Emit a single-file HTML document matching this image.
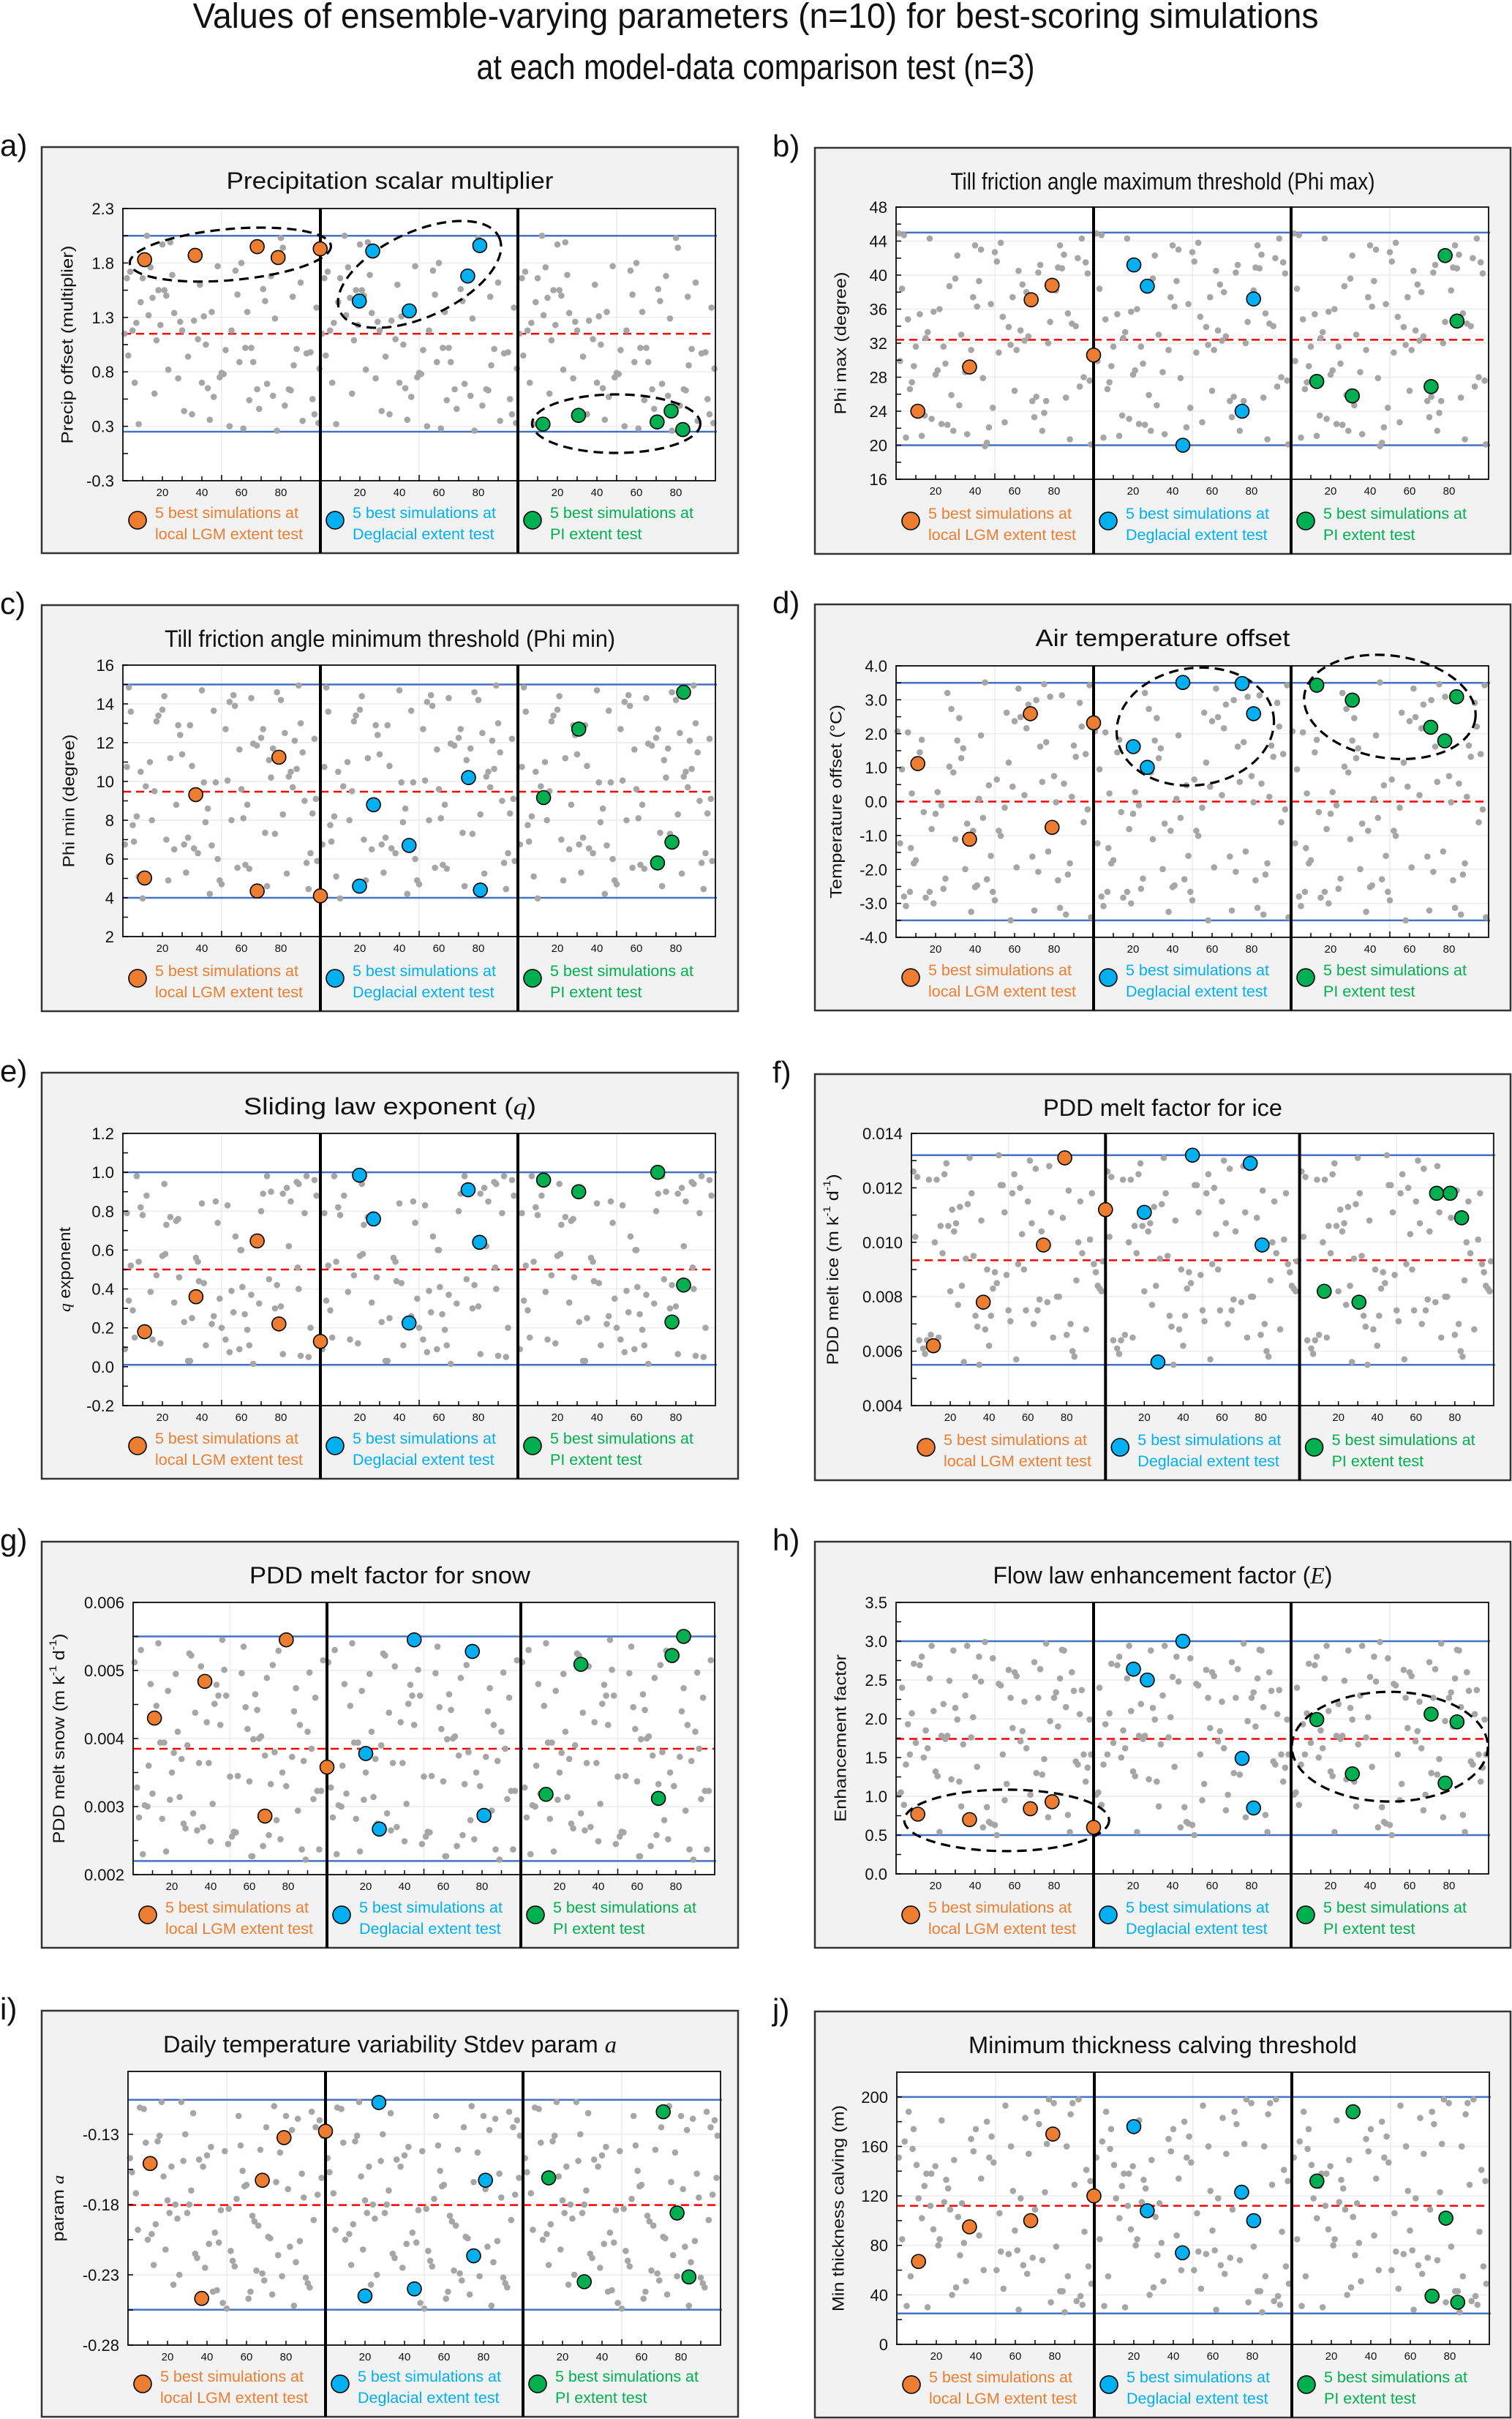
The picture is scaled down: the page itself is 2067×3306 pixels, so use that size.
<!DOCTYPE html>
<html><head><meta charset="utf-8"><title>Ensemble-varying parameters</title>
<style>
html,body{margin:0;padding:0;background:#fff;}
svg{display:block;font-family:"Liberation Sans",Arial,sans-serif;}
</style></head>
<body>
<svg id="fig" xmlns="http://www.w3.org/2000/svg" width="2067" height="3306" viewBox="0 0 2067 3306">
<rect x="0" y="0" width="2067" height="3306" fill="#ffffff"/>
<text x="1033" y="38" font-size="48" text-anchor="middle" textLength="1539" lengthAdjust="spacingAndGlyphs" fill="#111">Values of ensemble-varying parameters (n=10) for best-scoring simulations</text>
<text x="1033" y="108" font-size="48" text-anchor="middle" textLength="763" lengthAdjust="spacingAndGlyphs" fill="#111">at each model-data comparison test (n=3)</text>
</svg>
<script>
// ---------- data ----------
const aGrayX=[0.8,2,2.7,3.7,4.9,6,6.8,8,9,10,12.2,13,14,15,16,17,18,19,20,21,22,23,24,25,26,28,29,30,31,33,35,36,38,39,40,41,42,43,44,45,46,48,49,50,51,52,54,55,57,58,59,60,61,62,63,64,65,66,68,69,71,72,73,75,76,77,78,80,81,82,84,85,86,86.5,88,90,91,93,95,96,97,98,99,99.5];
const aGrayY=[1.15,1.66,0.95,1.72,1.18,0.70,1.25,0.32,1.44,1.66,2.05,1.32,1.76,1.48,0.60,1.09,1.55,1.23,1.97,1.55,1.50,0.82,1.99,1.69,1.34,0.74,1.26,1.18,0.44,0.94,0.41,1.27,1.10,1.60,0.70,1.31,1.05,0.65,0.36,1.35,0.57,1.77,0.75,0.79,0.78,1.00,0.30,1.18,1.73,1.51,0.89,1.80,0.28,1.02,1.35,0.54,1.02,0.89,0.64,0.46,1.56,1.45,0.69,1.68,0.58,1.29,0.26,2.03,1.94,0.49,0.64,0.63,1.49,0.86,1.01,1.62,0.35,0.97,0.98,0.55,0.41,1.39,0.33,0.83];
const aLgmX=[11,36.6,68,78.6,99.9], aLgmY=[1.83,1.87,1.95,1.85,1.93];
const aDegX=[19.7,26.5,45,74.6,80.7], aDegY=[1.45,1.91,1.36,1.68,1.96];
const aPiX=[12.7,30.7,70.5,77.6,83.5], aPiY=[0.32,0.40,0.34,0.44,0.27];

const bGrayX=[1.4,4,3,2,6,7,8,9,5,10,12,13,14.5,15,16,17,18,19,20,21,22,23,24,25,26,27,28,29,30,31,32,33,35,36,38,39,40,41,42,43,44,45,46,47,48,49,50,51,52,53,54,55,57,58,59,60,61,62,63,64,65,66,67,69,70,71,72,73,74,75,76,77,78,81,82,83,84,85,86,87,88,89,91,92,93,94,95,96,97,98,98.6];
const bGrayY=[44.9,44.7,38.4,29.9,34.8,26.6,27.4,29.3,20.9,31.6,35.4,21.1,23.5,32.6,33.3,44.3,23.1,35.7,28.3,28.8,36.0,22.5,31.6,29.6,22.4,38.7,25.9,21.7,39.6,42.3,24.7,33.0,28.6,21.3,31.2,37.4,43.5,36.3,39.3,43.0,27.9,19.9,20.3,22.1,36.6,24.4,42.7,41.6,30.9,43.8,35.1,22.7,33.9,31.8,37.4,26.4,31.2,40.5,33.5,38.9,32.3,38.0,32.8,25.2,23.3,25.7,40.3,41.2,21.7,23.8,25.2,32.0,34.5,38.2,40.9,43.5,40.8,42.4,25.6,35.5,20.7,34.3,34.0,42.0,26.9,44.3,28.0,41.5,40.2,27.6,20.1];
const bLgmX=[11,37.2,68.4,79,100], bLgmY=[24.0,29.2,37.1,38.8,30.6];
const bDegX=[20.4,27.2,45.2,75.2,81], bDegY=[41.2,38.7,20.0,24.0,37.2];
const bPiX=[13,31,70.9,78,84], bPiY=[27.5,25.8,26.9,42.3,34.6];

const cGrayX=[1,2,3,4,5,5.6,7,8,9,10,11.6,13.7,14.7,16,17,18,20,21,22,23,24,26,27,28,29,30,31,32,33,34,35,36,38,40,41,41.8,43,44,45,46,47,48,49,50,52,53,54,55,56,56.7,58,59,60,61,62,63,64,65,66,67.8,70,71,72,73,74,75,76,77,78,80,81,82,83,84,85,86,87,88,89,90,91,92,93,94,95,96,97,97.7,98.4];
const cGrayY=[6.75,10.75,14.85,13.6,7.75,6.9,8.2,5.1,10.5,3.97,9.75,11.0,8.0,9.5,13.1,13.4,13.7,14.4,7.0,4.9,11.2,6.5,8.8,12.9,12.4,11.4,6.75,5.3,7.1,12.9,10.8,6.55,6.3,14.7,9.95,7.9,8.6,4.2,6.7,13.65,9.95,6.0,4.9,4.7,12.7,10.05,14.1,8.0,14.45,13.9,5.55,11.65,9.6,8.1,5.7,8.8,5.5,14.3,11.95,11.85,12.25,12.7,7.35,4.6,11.1,10.2,11.7,7.3,14.6,14.2,8.3,12.5,5.25,10.25,10.5,9.7,12.1,10.65,14.95,13.0,11.5,9.0,5.8,4.45,6.3,8.35,12.2,9.1,5.9];
const cLgmX=[11,36.9,68,79,100], cLgmY=[5.02,9.32,4.35,11.25,4.1];
const cDegX=[19.8,26.9,44.9,75,81], cDegY=[4.6,8.8,6.7,10.2,4.4];
const cPiX=[13,30.8,70.7,78,83.9], cPiY=[9.17,12.7,5.8,6.87,14.6];

const dGrayX=[0.7,2,3,4,5,6,7,7.5,8,9,10,12,13,14,15,17,18,19,20,21,23,24,25,26,27,28,29,30,31,32,33,34,35,36,38,39,40,41,42,43,44,45,46,47,48,49,50,51,52,53,55,56,57,58,59,60,61,62,63,65,66,67,69,70,71,72,73,74,75,76,77,78,80,81,82,83,84,85,86,87,88,89,90,91,93,94,95,96,97,98,98.7];
const dGrayY=[2.07,-1.23,0.95,-2.8,-3.08,2.04,-2.66,-1.37,0.24,-1.82,-1.73,1.45,1.82,-0.31,-2.83,-2.66,-0.81,-3.0,-0.36,0.28,-0.11,-2.57,-2.27,3.2,1.03,2.73,0.86,-1.11,1.8,2.46,1.28,1.57,-1.99,-0.65,-3.25,-0.86,-2.52,-2.47,0.08,1.95,-0.48,3.51,-2.29,0.48,-1.6,-2.66,-2.91,0.65,-0.86,-1.01,-0.18,2.62,1.15,-3.5,0.44,2.37,-1.94,3.33,2.49,0.19,2.16,2.86,-1.62,-3.21,2.99,-2.07,1.62,0.58,3.46,1.75,-1.47,3.09,0.75,-0.02,-2.32,-3.13,3.13,0.53,-3.33,-2.15,-1.82,0.14,1.65,1.32,2.91,2.21,-0.61,1.4,-0.23,3.43,-3.41];
const dLgmX=[11,37.2,68,79,100], dLgmY=[1.12,-1.11,2.59,-0.76,2.32];
const dDegX=[20.1,27.2,45.2,75.2,81], dDegY=[1.62,1.01,3.51,3.48,2.59];
const dPiX=[13,31,70.7,77.8,83.8], dPiY=[3.43,2.99,2.19,1.79,3.09];

const eGrayX=[7,2,9,10,12,21,24,28,22,27,40,47,48,53,57,60,70,73,71,75,81,83,85,88,89,92,93,97,98,21.5,37,59.5,1,3,4,5,6,8,14,15,17,19,20,26,28.5,31,33,34,35,38,38.5,41,42,45,46,49,50,52,54,55,56,59,60.5,61.7,63,64,65,66,69,74,77,78,80,81,84,88.5,89,90,94,95];
const eGrayY=[0.98,0.79,0.82,0.78,0.88,0.94,0.77,0.76,0.73,0.75,0.84,0.85,0.74,0.83,0.67,0.6,0.8,0.98,0.89,0.9,0.89,0.92,0.85,0.95,0.94,0.79,0.98,0.96,0.88,0.58,0.56,0.6,0.09,0.34,0.52,0.29,0.15,0.54,0.385,0.14,0.47,0.12,0.57,0.33,0.46,0.23,0.03,0.03,0.25,0.54,0.44,0.43,0.11,0.22,0.26,0.35,0.2,0.14,0.075,0.39,0.28,0.09,0.41,0.27,0.19,0.11,0.37,0.015,0.325,0.45,0.3,0.42,0.31,0.065,0.62,0.51,0.4,0.056,0.05,0.2];
const eLgmX=[11,37,68,79,100], eLgmY=[0.18,0.36,0.647,0.22,0.13];
const eDegX=[19.8,26.9,44.9,74.8,80.6], eDegY=[0.985,0.76,0.225,0.91,0.64];
const ePiX=[13,30.8,70.8,78,83.9], ePiY=[0.96,0.9,1.0,0.23,0.42];

const fGrayX=[1,3,2,4,6,7,8,9,10,12,13,14,15,16,17,18,19,20,21,22,23,24,25,26,27,28,29,30,31,32,33,34,35,36,38,39,40,41,42,43,44,45,46,47,48,49,50,51,52,53,54,55,56,57,58,59,60,61,62,63,64,65,66,67,70,71,72,73,75,76,78,80,81,82,83,84,85,86,87,88,90,92,93,94,95,96,97,98,98.6];
const fGrayY=[.0126,.0124,.0102,.0064,.0061,.0059,.0064,.0123,.0066,.0100,.0123,.0065,.0106,.0096,.0125,.0129,.0106,.0082,.0112,.0104,.0107,.0077,.0113,.0084,.0056,.0094,.0114,.0131,.0118,.0095,.0073,.0069,.0055,.0108,.0068,.0090,.0062,.0073,.0083,.0089,.0085,.0132,.0121,.0121,.0111,.0088,.0075,.0071,.0118,.0125,.0057,.0092,.0120,.0103,.0090,.0075,.0115,.0130,.0107,.0070,.0127,.0075,.0079,.0104,.0078,.0128,.0111,.0065,.0080,.0080,.0109,.0066,.0119,.0070,.0060,.0058,.0086,.0100,.0115,.0096,.0068,.0101,.0118,.0092,.0089,.0084,.0083,.0082,.0093];
const fLgmX=[11.3,37,68,79,100], fLgmY=[.0062,.0078,.0099,.0131,.0112];
const fDegX=[20,27,44.8,74.6,80.7], fDegY=[.0111,.0056,.0132,.0129,.0099];
const fPiX=[12.7,30.6,70.6,77.6,83.5], fPiY=[.0082,.0078,.0118,.0118,.0109];

const gGrayX=[0.7,2,3,4,5,6,7.4,8,9,10,12,13,14,15,16,17,18,19,20,21,22,23,24,25,26,27,28,29,30,31,32,33,34,35,36,38,39,40,41,42,43,44,45,46,47,48,49,50,51,52,53,54,56,57,58,59,60,61,61.5,62,63,64,65,66,67,68,69,70,71,72,73,74,75,76,77,79,82,83,84,85,86,87,88,89,90,91,92,93,94,95,96,97,98];
const gGrayY=[.00512,.00328,.00284,.0053,.0023,.00302,.003,.0036,.0048,.00319,.00448,.0054,.00394,.00282,.00394,.00234,.0047,.0031,.0035,.00379,.00495,.0041,.00314,.0037,.00275,.00268,.0039,.00525,.00522,.0029,.00438,.00265,.00364,.00506,.0027,.00424,.00364,.00249,.00304,.00451,.00479,.00463,.0042,.00545,.00501,.00463,.00245,.00344,.00256,.00263,.00262,.00345,.00496,.00535,.00446,.00414,.00337,.00227,.00227,.00399,.00465,.00442,.004,.00403,.00242,.00375,.00489,.00258,.00333,.00508,.0038,.0028,.00529,.00252,.0035,.0033,.00373,.0044,.00474,.00294,.0042,.00237,.00367,.00222,.0041,.00497,.00385,.00311,.0046,.00323,.00237,.00323,.00515];
const gLgmX=[11,37,68,79,100], gLgmY=[.0043,.00484,.00286,.00545,.00358];
const gDegX=[20,27,45,75,81], gDegY=[.00378,.00267,.00545,.00528,.00287];
const gPiX=[13,31,71,78,84], gPiY=[.00318,.00509,.00312,.00522,.0055];

const hGrayX=[1.4,2.4,3,4,5,6,7,8,9,10,12,13,14,15,16,17,18,19,20,21,22,23,24,25,26,27,28,29,30,31,32,33,34,35,36,38,39,40,41,42,43,44,45,46,47,48,49,50,51,52,53,54,55,56,57,58,59,60,61,63,64,65,66,67,68,70,71,72,73,74,75,76,77,78,80,81,82,83,84,85,86,87,88,89,90,91,92,93,94,95,96,97,98,98.7];
const hGrayY=[1.02,1.05,2.4,0.89,1.41,1.93,1.54,2.07,2.71,1.69,2.69,2.8,1.5,1.85,1.62,2.52,2.94,2.1,1.32,1.26,0.54,1.78,2.19,1.74,1.78,2.49,1.22,2.88,2.14,1.99,1.19,0.87,1.67,2.3,2.94,1.76,2.02,2.54,1.38,2.8,2.48,0.6,2.99,0.86,0.67,0.65,2.78,0.63,0.5,2.45,2.43,1.54,0.95,1.16,2.63,2.27,1.88,2.6,2.55,1.71,1.84,2.22,1.62,0.82,1.02,2.73,1.3,2.27,2.64,1.28,1.48,2.97,0.73,1.97,2.27,2.34,1.9,2.52,2.89,2.88,2.15,0.76,0.54,2.6,2.36,1.45,1.41,2.06,2.37,1.54,1.19,1.37,1.99,1.54];
const hLgmX=[11,37.2,68,79,100], hLgmY=[0.77,0.7,0.84,0.93,0.6];
const hDegX=[20.2,27.2,45.2,75.2,81], hDegY=[2.64,2.5,3.0,1.49,0.85];
const hPiX=[13,31,70.9,78,84], hPiY=[1.99,1.29,2.06,1.17,1.96];

const iGrayX=[1,2,4,5,6,8,9,10,12,13,14,15,16,17,18,19,20,21,22,23,24,25,26,27,28,29,30,31,32,33,34,35,36,38,39,40,41,42,43,44,45,46,47,48,49,50,51,52,53,54,55,56,57,58,59,60,61,62,63,64,65,66,67,68,69,70,71,72,73,74,75,76,77,78,80,81,82,83,84,85,86,87,88,89,90,91,92,93,94,95,96,97,98,98.5];
const iGrayY=[-.147,-.157,-.172,-.198,-.111,-.112,-.136,-.205,-.201,-.223,-.194,-.135,-.131,-.107,-.160,-.212,-.177,-.186,-.153,-.237,-.180,-.190,-.230,-.107,-.149,-.130,-.186,-.180,-.170,-.115,-.215,-.218,-.148,-.153,-.225,-.145,-.208,-.139,-.242,-.200,-.241,-.207,-.184,-.250,-.142,-.254,-.183,-.213,-.220,-.224,-.176,-.117,-.138,-.156,-.167,-.166,-.247,-.242,-.188,-.192,-.227,-.195,-.141,-.229,-.234,-.125,-.203,-.204,-.244,-.110,-.164,-.216,-.143,-.231,-.117,-.169,-.210,-.127,-.252,-.221,-.119,-.206,-.158,-.175,-.232,-.236,-.239,-.114,-.191,-.125,-.173,-.120,-.161,-.131];
const iLgmX=[11.2,37.3,68,79,100], iLgmY=[-.1508,-.2468,-.1627,-.1324,-.1278];
const iDegX=[20,27,45,75,81], iDegY=[-.245,-.1074,-.240,-.2165,-.1627];
const iPiX=[13,31,71,78,84], iPiY=[-.161,-.2349,-.114,-.186,-.2315];

const jGrayX=[1,2.7,4,5,6,7,8,8.5,10,11,12.7,14,15,15.6,17,17.5,18.5,19.5,21,21.7,22.7,24,25,26,27,28,29,30,31,32,33,34,35,37.6,38.8,40,41.7,42.7,44,45.6,46.8,48,49,50.5,52,52.7,54,55,56.6,57.8,58.8,59.8,61,61.7,62.7,64,65,66,66.8,68.8,70,71,72,73.7,75,76,77,78,79.5,80.7,82.7,84,85,86,86.6,88,89,90,91,92,93,94,95,96,97,98,98.5];
const jGrayY=[151,85,164,31,188,55,158,174,145,118,102,128,138,30,112,138,93,144,80,85,181,115,133,126,109,40,149,46,103,72,114,82,51,166,156,174,88,134,60,180,151,168,147,60,106,75,45,193,73,160,124,92,76,28,118,64,183,57,154,70,109,188,178,68,123,162,198,34,195,79,43,43,26,160,55,186,195,129,35,198,39,32,91,141,63,132,49];
const jLgmX=[11,36.8,67.8,79,99.8], jLgmY=[67,95,100,170,120];
const jDegX=[20,26.8,44.6,74.6,80.7], jDegY=[176,108,74,123,100];
const jPiX=[12.7,31,71,78,84], jPiY=[132,188,39,102,34];

// y-axis tick values and printed labels
const aTickVals=[-0.2,0.3,0.8,1.3,1.8,2.3], aTickLabels=['-0.3','0.3','0.8','1.3','1.8','2.3'];
const bTickVals=[16,20,24,28,32,36,40,44,48], bTickLabels=['16','20','24','28','32','36','40','44','48'];
const cTickVals=[2,4,6,8,10,12,14,16], cTickLabels=['2','4','6','8','10','12','14','16'];
const dTickVals=[-4,-3,-2,-1,0,1,2,3,4], dTickLabels=['-4.0','-3.0','-2.0','-1.0','0.0','1.0','2.0','3.0','4.0'];
const eTickVals=[-0.2,0,0.2,0.4,0.6,0.8,1.0,1.2], eTickLabels=['-0.2','0.0','0.2','0.4','0.6','0.8','1.0','1.2'];
const fTickVals=[0.004,0.006,0.008,0.010,0.012,0.014], fTickLabels=['0.004','0.006','0.008','0.010','0.012','0.014'];
const gTickVals=[0.002,0.003,0.004,0.005,0.006], gTickLabels=['0.002','0.003','0.004','0.005','0.006'];
const hTickVals=[0,0.5,1,1.5,2,2.5,3,3.5], hTickLabels=['0.0','0.5','1.0','1.5','2.0','2.5','3.0','3.5'];
const iTickVals=[-0.28,-0.23,-0.18,-0.13], iTickLabels=['-0.28','-0.23','-0.18','-0.13'];
const jTickVals=[0,40,80,120,160,200], jTickLabels=['0','40','80','120','160','200'];

// parameter range bounds (blue) and midpoint (red dashed)
const aBounds=[2.05,0.25], aMid=[1.15];
const bBounds=[45,20], bMid=[32.4];
const cBounds=[15,4], cMid=[9.47];
const dBounds=[3.5,-3.5], dMid=[0];
const eBounds=[1.0,0.01], eMid=[0.5];
const fBounds=[0.0132,0.0055], fMid=[0.00934];
const gBounds=[0.0055,0.0022], gMid=[0.00385];
const hBounds=[3.0,0.5], hMid=[1.74];
const iBounds=[-0.1055,-0.2548], iMid=[-0.1804];
const jBounds=[200,25], jMid=[112];

// annotation ellipses: section, x centre, y centre (data units)
const aEllSec=[0,1,2], aEllX=[54.4,50.2,49.8], aEllY=[1.877,1.695,0.324];
const dEllSec=[1,2], dEllX=[51.5,50], dEllY=[2.21,2.79];
const hEllSec=[0,2], hEllX=[56,50], hEllY=[0.69,1.64];

// ---------- layout ----------
const NS='http://www.w3.org/2000/svg';
const svg=document.getElementById('fig');
function el(tag, attrs, parent){
  const e=document.createElementNS(NS,tag);
  for(const k in attrs) e.setAttribute(k, attrs[k]);
  (parent||svg).appendChild(e);
  return e;
}
const COLORS=['#ED7D31','#00B0F0','#00B050'];
const LEG2=['local LGM extent test','Deglacial extent test','PI extent test'];
const SECNAMES=['lgm','deglacial','pi'];

const panels=[
 {id:'a',label:'a)',bx:57,by:201,bw:952,L:168,S:270,T:285,B:657,ymin:-0.2,ymax:2.3,title:'Precipitation scalar multiplier',tl:447,ylab:'Precip offset (multiplier)',yl:271,yoff:76,
  tv:aTickVals,tls:aTickLabels,gx:aGrayX,gy:aGrayY,bx3:[aLgmX,aDegX,aPiX],by3:[aLgmY,aDegY,aPiY],bounds:aBounds,mid:aMid,
  ell:{sec:aEllSec,x:aEllX,y:aEllY,rx:[138,120,115],ry:[35,58,40],rot:[-5,-25,0]}},
 {id:'b',label:'b)',bx:1114,by:202,bw:951,L:1225,S:270,T:283,B:655,ymin:16,ymax:48,title:'Till friction angle maximum threshold (Phi max)',tl:580,ylab:'Phi max (degree)',yl:195,yoff:76,
  tv:bTickVals,tls:bTickLabels,gx:bGrayX,gy:bGrayY,bx3:[bLgmX,bDegX,bPiX],by3:[bLgmY,bDegY,bPiY],bounds:bBounds,mid:bMid},
 {id:'c',label:'c)',bx:57,by:827,bw:952,L:168,S:270,T:909,B:1280,ymin:2,ymax:16,title:'Till friction angle minimum threshold (Phi min)',tl:616,ylab:'Phi min (degree)',yl:182,yoff:74,
  tv:cTickVals,tls:cTickLabels,gx:cGrayX,gy:cGrayY,bx3:[cLgmX,cDegX,cPiX],by3:[cLgmY,cDegY,cPiY],bounds:cBounds,mid:cMid},
 {id:'d',label:'d)',bx:1114,by:826,bw:951,L:1225,S:270,T:910,B:1281,ymin:-4,ymax:4,title:'Air temperature offset',tl:348,ylab:'Temperature offset (°C)',yl:265,yoff:82,
  tv:dTickVals,tls:dTickLabels,gx:dGrayX,gy:dGrayY,bx3:[dLgmX,dDegX,dPiX],by3:[dLgmY,dDegY,dPiY],bounds:dBounds,mid:dMid,
  ell:{sec:dEllSec,x:dEllX,y:dEllY,rx:[108,118],ry:[80,70],rot:[-8,8]}},
 {id:'e',label:'e)',bx:57,by:1466,bw:952,L:168,S:270,T:1549,B:1921,ymin:-0.2,ymax:1.2,title:'Sliding law exponent (',titleQ:'q',titleEnd:')',tl:400,ylab:'',ylabQ:true,yl:116,yoff:80,
  tv:eTickVals,tls:eTickLabels,gx:eGrayX,gy:eGrayY,bx3:[eLgmX,eDegX,ePiX],by3:[eLgmY,eDegY,ePiY],bounds:eBounds,mid:eMid},
 {id:'f',label:'f)',bx:1114,by:1468,bw:951,L:1246,S:265.3,T:1549,B:1921,ymin:0.004,ymax:0.014,title:'PDD melt factor for ice',tl:327,ylab:'PDD melt ice',sup:true,yl:261,yoff:108,
  tv:fTickVals,tls:fTickLabels,gx:fGrayX,gy:fGrayY,bx3:[fLgmX,fDegX,fPiX],by3:[fLgmY,fDegY,fPiY],bounds:fBounds,mid:fMid},
 {id:'g',label:'g)',bx:57,by:2107,bw:952,L:182,S:265,T:2190,B:2562,ymin:0.002,ymax:0.006,title:'PDD melt factor for snow',tl:384,ylab:'PDD melt snow',sup:true,yl:287,yoff:102,
  tv:gTickVals,tls:gTickLabels,gx:gGrayX,gy:gGrayY,bx3:[gLgmX,gDegX,gPiX],by3:[gLgmY,gDegY,gPiY],bounds:gBounds,mid:gMid},
 {id:'h',label:'h)',bx:1114,by:2107,bw:951,L:1225,S:270,T:2190,B:2561,ymin:0,ymax:3.5,title:'Flow law enhancement factor (',titleQ:'E',titleEnd:')',tl:464,ylab:'Enhancement factor',yl:229,yoff:76,
  tv:hTickVals,tls:hTickLabels,gx:hGrayX,gy:hGrayY,bx3:[hLgmX,hDegX,hPiX],by3:[hLgmY,hDegY,hPiY],bounds:hBounds,mid:hMid,
  ell:{sec:hEllSec,x:hEllX,y:hEllY,rx:[140,134],ry:[42,75],rot:[0,0]}},
 {id:'i',label:'i)',bx:57,by:2748,bw:952,L:175,S:270,T:2831,B:3205,ymin:-0.28,ymax:-0.0853,title:'Daily temperature variability Stdev param ',titleQ:'a',titleEnd:'',tl:620,ylab:'param ',ylabA:true,yl:91,yoff:96,
  tv:iTickVals,tls:iTickLabels,gx:iGrayX,gy:iGrayY,bx3:[iLgmX,iDegX,iPiX],by3:[iLgmY,iDegY,iPiY],bounds:iBounds,mid:iMid},
 {id:'j',label:'j)',bx:1114,by:2749,bw:951,L:1226,S:270,T:2832,B:3204,ymin:0,ymax:220,title:'Minimum thickness calving threshold',tl:531,ylab:'Min thickness calving (m)',yl:282,yoff:80,
  tv:jTickVals,tls:jTickLabels,gx:jGrayX,gy:jGrayY,bx3:[jLgmX,jDegX,jPiX],by3:[jLgmY,jDegY,jPiY],bounds:jBounds,mid:jMid}
];

function drawPanel(p){
  const g=el('g',{});
  
  
  const BH=555;
  const xs=(sec,v)=>p.L+sec*p.S+v/100*p.S;
  const ys=v=>p.B-(v-p.ymin)/(p.ymax-p.ymin)*(p.B-p.T);
  const R=p.L+3*p.S;

  const box=el('rect',{x:p.bx,y:p.by,width:p.bw,height:BH,fill:'#f2f2f2',stroke:'#333',"stroke-width":2.5},g);
  
  

  const lab=el('text',{x:p.bx<500?0:1056,y:p.by+12,"font-size":42,fill:'#111'},g);
  lab.textContent=p.label;
  
  

  const tt=el('text',{x:p.bx+p.bw/2,y:p.by+57,"font-size":32,"text-anchor":'middle',textLength:p.tl,lengthAdjust:'spacingAndGlyphs',fill:'#111'},g);
  
  
  if(p.titleQ){
    const t1=el('tspan',{},tt); t1.textContent=p.title;
    const t2=el('tspan',{"font-family":'"Liberation Serif",serif',"font-style":'italic'},tt); t2.textContent=p.titleQ;
    if(p.titleEnd){const t3=el('tspan',{},tt); t3.textContent=p.titleEnd;}
  } else tt.textContent=p.title;

  const pr=el('rect',{x:p.L,y:p.T,width:3*p.S,height:p.B-p.T,fill:'#fff'},g);
  
  

  // gridlines
  p.tv.forEach(v=>{
    if(v<=p.ymin||v>=p.ymax) return;
    const l=el('line',{x1:p.L,x2:R,y1:ys(v),y2:ys(v),stroke:'#ececec',"stroke-width":1.5},g);
    
    
  });
  for(let s=0;s<3;s++){
    const l=el('line',{x1:xs(s,50),x2:xs(s,50),y1:p.T,y2:p.B,stroke:'#ececec',"stroke-width":1.5},g);
    
    
  }
  // bounds & mid
  p.bounds.forEach(v=>{
    const l=el('line',{x1:p.L,x2:R+2,y1:ys(v),y2:ys(v),stroke:'#4472C4',"stroke-width":2.5},g);
    
    
  });
  p.mid.forEach(v=>{
    const l=el('line',{x1:p.L,x2:R,y1:ys(v),y2:ys(v),stroke:'#FF0000',"stroke-width":2.5,"stroke-dasharray":'11 7'},g);
    
    
  });
  // grey ensemble dots
  const n=Math.min(p.gx.length,p.gy.length);
  for(let s=0;s<3;s++){
    for(let k=0;k<n;k++){
      const c=el('circle',{cx:xs(s,p.gx[k]),cy:ys(p.gy[k]),r:4.3,fill:'#a6a6a6'},g);
      
      
    }
  }
  // frame lines
  const fr=el('rect',{x:p.L,y:p.T,width:3*p.S,height:p.B-p.T,fill:'none',stroke:'#222',"stroke-width":2},g);
  
  
  // dividers
  for(let s=1;s<3;s++){
    const l=el('line',{x1:p.L+s*p.S,x2:p.L+s*p.S,y1:p.T,y2:p.by+BH,stroke:'#000',"stroke-width":4},g);
    
    
  }
  // y ticks (major + minor) and labels
  for(let k=0;k<p.tv.length;k++){
    const v=p.tv[k];
    const t=el('line',{x1:p.L,x2:p.L+7,y1:ys(v),y2:ys(v),stroke:'#000',"stroke-width":1.5},g);
    
    
    if(k<p.tv.length-1){
      const m=(v+p.tv[k+1])/2;
      const t2=el('line',{x1:p.L,x2:p.L+7,y1:ys(m),y2:ys(m),stroke:'#000',"stroke-width":1.5},g);
      
      
    }
    const tl=el('text',{x:p.L-12,y:ys(v)+8,"font-size":22,"text-anchor":'end',fill:'#111'},g);
    tl.textContent=p.tls[k];
    
    
  }
  // y axis title
  const yx=p.L-p.yoff, yy=(p.T+p.B)/2;
  const yt=el('text',{x:yx,y:yy,"font-size":22,"text-anchor":'middle',transform:`rotate(-90 ${yx} ${yy})`,textLength:p.yl,lengthAdjust:'spacingAndGlyphs',fill:'#111',"dominant-baseline":'central'},g);
  
  
  if(p.ylabQ){
    const q=el('tspan',{"font-family":'"Liberation Serif",serif',"font-style":'italic'},yt); q.textContent='q';
    const r=el('tspan',{},yt); r.textContent=' exponent';
  } else if(p.ylabA){
    const r=el('tspan',{},yt); r.textContent=p.ylab;
    const q=el('tspan',{"font-family":'"Liberation Serif",serif',"font-style":'italic'},yt); q.textContent='a';
  } else if(p.sup){
    const a1=el('tspan',{},yt); a1.textContent=p.ylab+' (m k';
    const a2=el('tspan',{"font-size":14,dy:-8},yt); a2.textContent='-1';
    const a3=el('tspan',{dy:8},yt); a3.textContent=' d';
    const a4=el('tspan',{"font-size":14,dy:-8},yt); a4.textContent='-1';
    const a5=el('tspan',{dy:8},yt); a5.textContent=')';
  } else yt.textContent=p.ylab;
  // x ticks
  for(let s=0;s<3;s++){
    for(let v=10;v<100;v+=10){
      const t=el('line',{x1:xs(s,v),x2:xs(s,v),y1:p.B,y2:p.B-(v===50?8:6),stroke:'#000',"stroke-width":1.5},g);
      
      
      if(v%20===0){
        const tl=el('text',{x:xs(s,v),y:p.B+21,"font-size":15,"text-anchor":'middle',fill:'#111'},g);
        tl.textContent=String(v);
        
        
      }
    }
  }
  // ellipses
  if(p.ell){
    for(let k=0;k<p.ell.sec.length;k++){
      const cx=xs(p.ell.sec[k],p.ell.x[k]), cy=ys(p.ell.y[k]);
      const e=el('ellipse',{cx:cx,cy:cy,rx:p.ell.rx[k],ry:p.ell.ry[k],fill:'none',stroke:'#000',"stroke-width":3.2,"stroke-dasharray":'13 8',transform:`rotate(${p.ell.rot[k]} ${cx} ${cy})`},g);
      
      
    }
  }
  // best simulations
  for(let s=0;s<3;s++){
    const X=p.bx3[s], Y=p.by3[s];
    for(let k=0;k<Math.min(X.length,Y.length);k++){
      const c=el('circle',{cx:xs(s,X[k]),cy:ys(Y[k]),r:9.5,fill:COLORS[s],stroke:'#000',"stroke-width":1.6},g);
      
      
    }
  }
  // legend
  for(let s=0;s<3;s++){
    const x0=p.L+s*p.S;
    const lc=el('circle',{cx:x0+20,cy:p.by+510,r:12,fill:COLORS[s],stroke:'#000',"stroke-width":1.6},g);
    
    
    const l1=el('text',{x:x0+44,y:p.by+507,"font-size":21.5,fill:COLORS[s]},g);
    l1.textContent='5 best simulations at';
    
    
    const l2=el('text',{x:x0+44,y:p.by+536,"font-size":21.5,fill:COLORS[s]},g);
    l2.textContent=LEG2[s];
    
    
  }
}
panels.forEach(drawPanel);
</script>
</body></html>
